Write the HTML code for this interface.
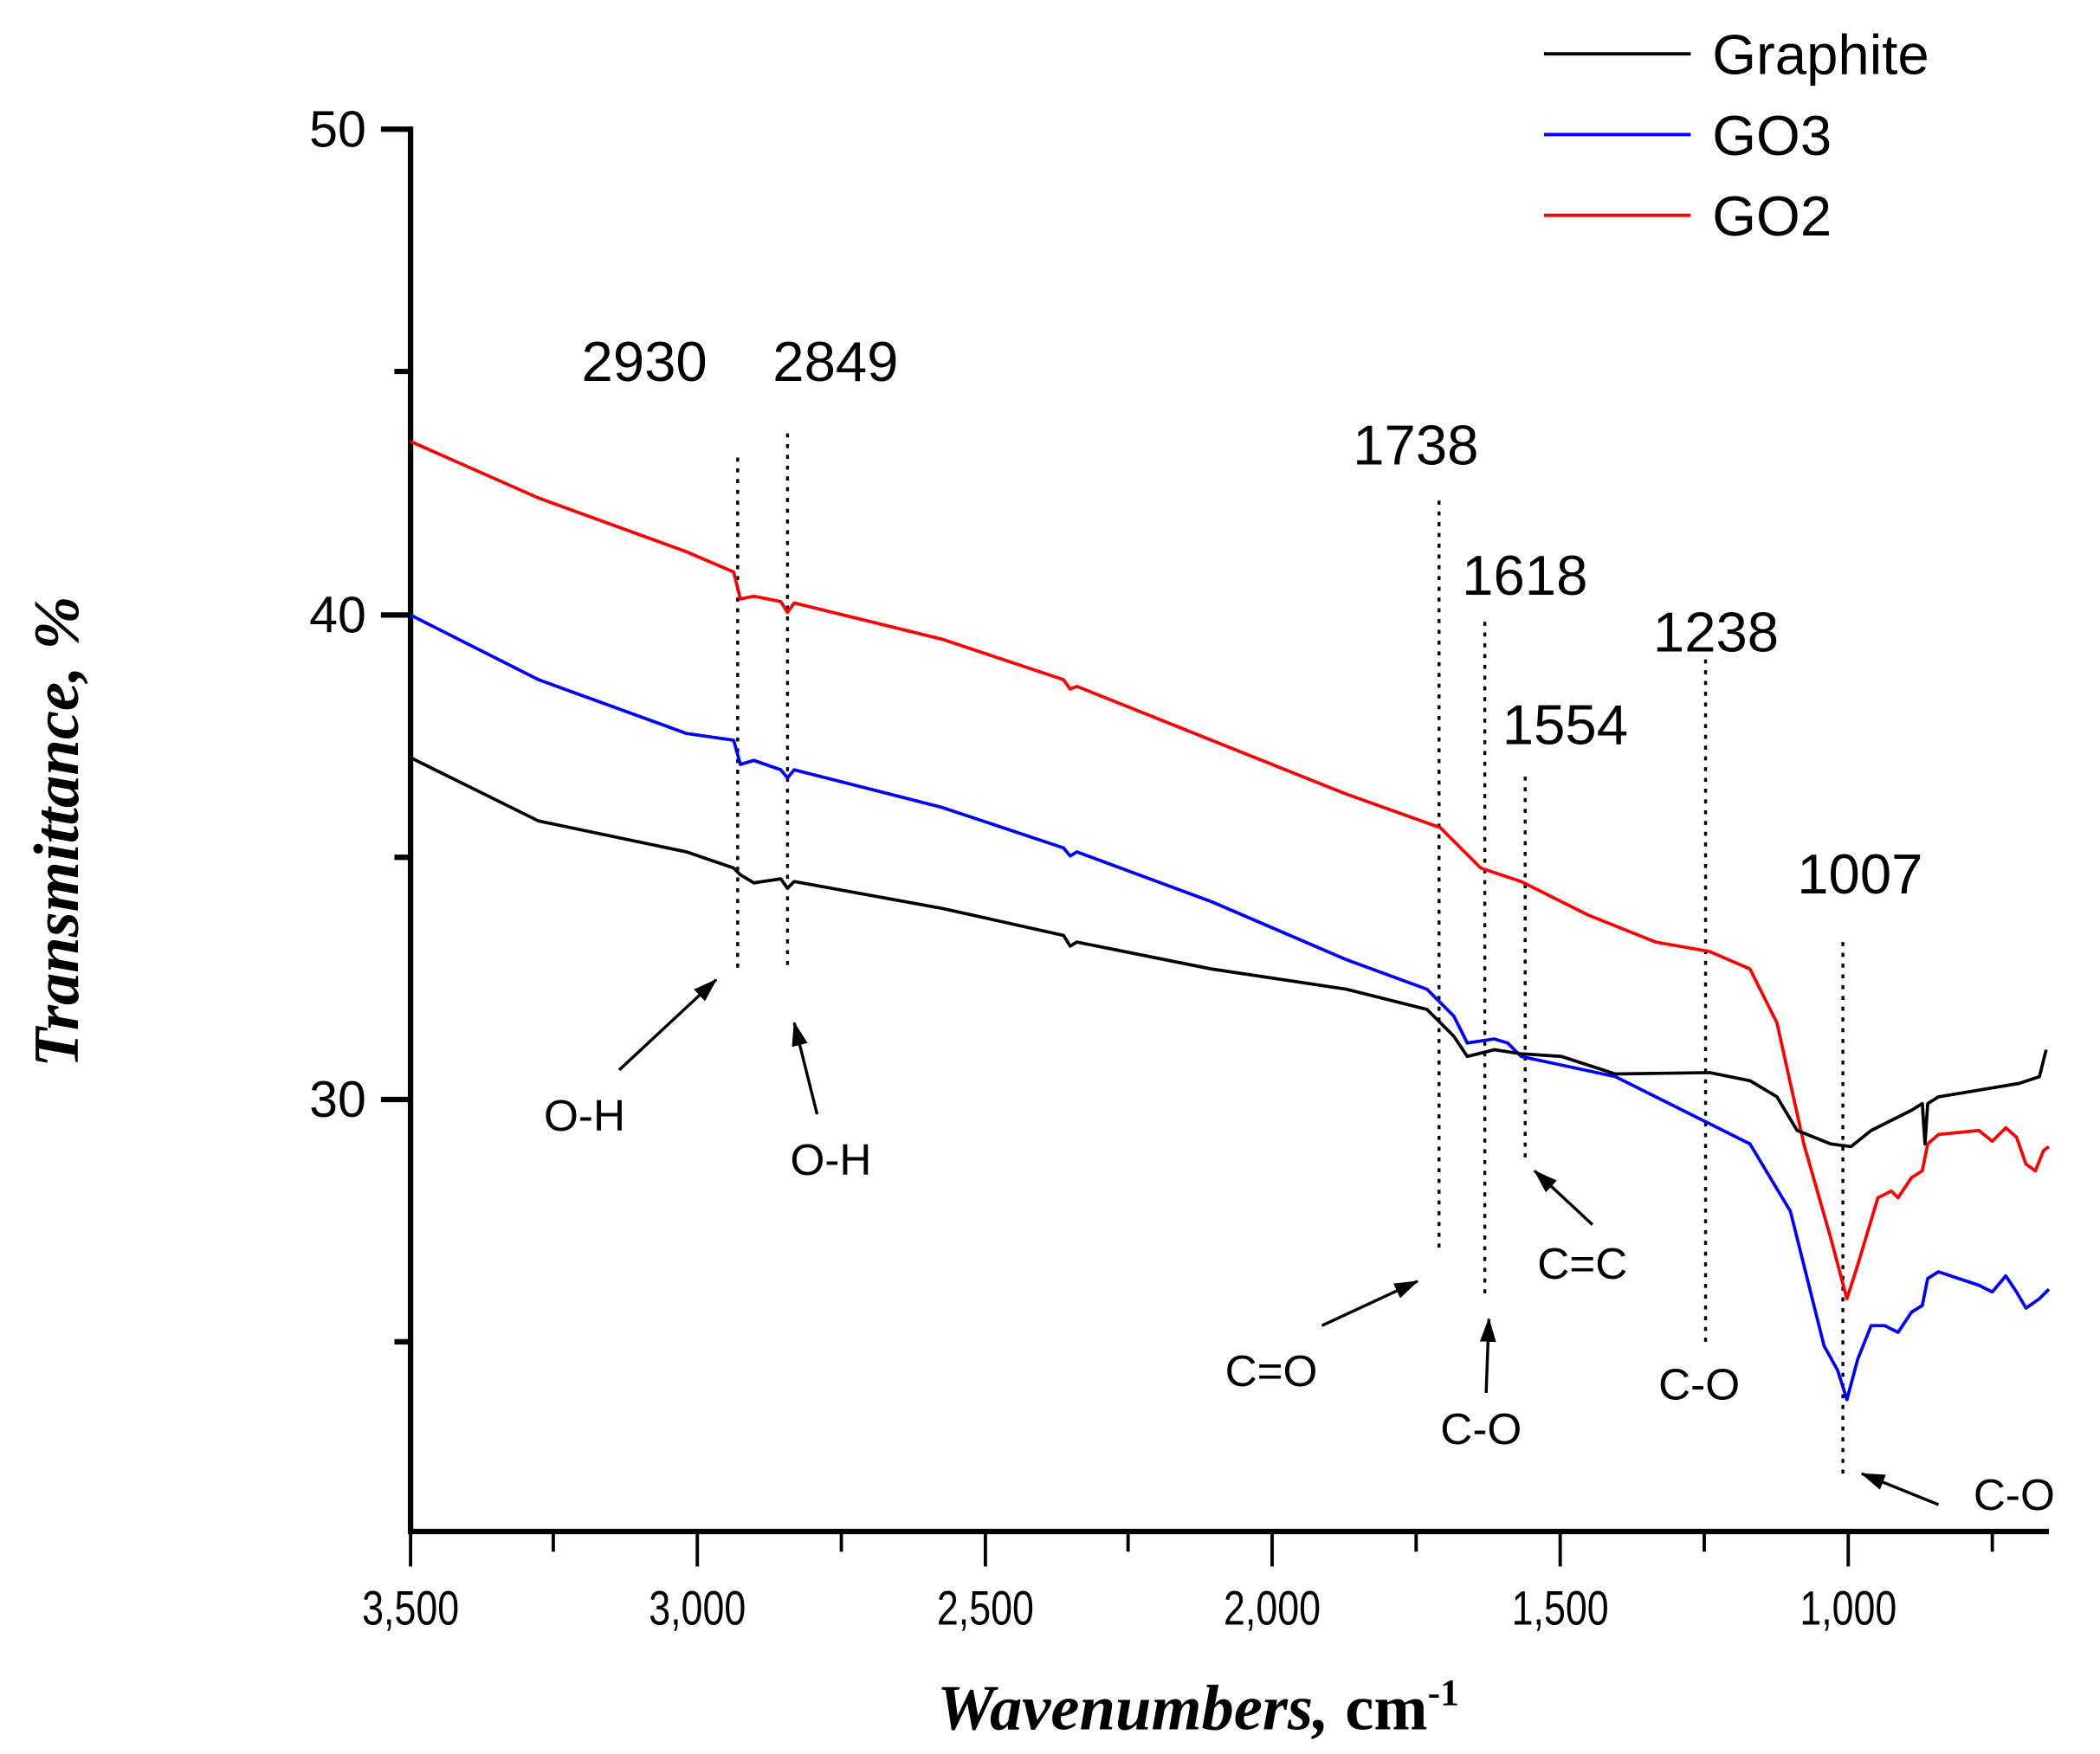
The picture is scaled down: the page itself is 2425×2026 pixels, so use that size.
<!DOCTYPE html>
<html><head><meta charset="utf-8"><style>
html,body{margin:0;padding:0;background:#fff;}
svg{display:block;}
text{font-family:"Liberation Sans",Arial,sans-serif;fill:#000;}
</style></head><body>
<svg width="2425" height="2026" viewBox="0 0 1560 1303.3" xmlns="http://www.w3.org/2000/svg">
<defs><marker id="ah2" markerWidth="18" markerHeight="12" refX="17" refY="6" orient="auto" markerUnits="userSpaceOnUse"><path d="M0,0 L18,6 L0,12 z" fill="#000"/></marker></defs>
<g stroke="#000" stroke-width="4" fill="none">
<line x1="305" y1="94" x2="305" y2="1140"/>
<line x1="303" y1="1138" x2="1522" y2="1138"/>
<line x1="283" y1="96" x2="305" y2="96"/>
<line x1="283" y1="457" x2="305" y2="457"/>
<line x1="283" y1="817" x2="305" y2="817"/>
<line x1="293" y1="276" x2="305" y2="276"/>
<line x1="293" y1="637" x2="305" y2="637"/>
<line x1="293" y1="997" x2="305" y2="997"/>
</g>
<g stroke="#000" stroke-width="2.5">
<line x1="305" y1="1138" x2="305" y2="1164"/><line x1="518" y1="1138" x2="518" y2="1164"/>
<line x1="732" y1="1138" x2="732" y2="1164"/><line x1="945" y1="1138" x2="945" y2="1164"/>
<line x1="1159" y1="1138" x2="1159" y2="1164"/><line x1="1373" y1="1138" x2="1373" y2="1164"/>
<line x1="411" y1="1138" x2="411" y2="1153"/><line x1="625" y1="1138" x2="625" y2="1153"/>
<line x1="838" y1="1138" x2="838" y2="1153"/><line x1="1052" y1="1138" x2="1052" y2="1153"/>
<line x1="1266" y1="1138" x2="1266" y2="1153"/><line x1="1480" y1="1138" x2="1480" y2="1153"/>
</g>
<g font-size="38" text-anchor="end">
<text x="272" y="109">50</text><text x="272" y="470">40</text><text x="272" y="830">30</text>
</g>
<g font-size="36" text-anchor="middle">
<text transform="translate(305 1207) scale(0.8 1)">3,500</text>
<text transform="translate(518 1207) scale(0.8 1)">3,000</text>
<text transform="translate(732 1207) scale(0.8 1)">2,500</text>
<text transform="translate(945 1207) scale(0.8 1)">2,000</text>
<text transform="translate(1159 1207) scale(0.8 1)">1,500</text>
<text transform="translate(1373 1207) scale(0.8 1)">1,000</text>
</g>
<text x="890" y="1285" text-anchor="middle" font-size="48" font-style="italic" font-weight="bold" style="font-family:'Liberation Serif',serif">Wavenumbers,<tspan font-style="normal"> cm</tspan><tspan dy="-18" font-size="28" font-style="normal">-1</tspan></text>
<text transform="translate(58 618) rotate(-90)" text-anchor="middle" font-size="48" font-style="italic" font-weight="bold" style="font-family:'Liberation Serif',serif">Transmittance, %</text>
<g stroke-width="2.5"><line x1="1147" y1="40" x2="1256" y2="40" stroke="#000"/><line x1="1147" y1="100" x2="1256" y2="100" stroke="#00f"/><line x1="1147" y1="160" x2="1256" y2="160" stroke="#f00"/></g>
<g font-size="42"><text x="1272" y="55">Graphite</text><text x="1272" y="115">GO3</text><text x="1272" y="175">GO2</text></g>
<g stroke="#000" stroke-width="2.2" stroke-dasharray="3,5">
<line x1="548" y1="340" x2="548" y2="720"/><line x1="585" y1="322" x2="585" y2="722"/>
<line x1="1069" y1="372" x2="1069" y2="932"/><line x1="1103" y1="462" x2="1103" y2="965"/>
<line x1="1133" y1="577" x2="1133" y2="862"/><line x1="1267" y1="490" x2="1267" y2="1000"/>
<line x1="1369" y1="700" x2="1369" y2="1100"/>
</g>
<g fill="none" stroke-width="2.4" stroke-linejoin="round">
<polyline stroke="#f00" points="305,328 400,370 510,410 545,425 550,445 560,443 580,447 585,455 590,448 700,475 790,505 795,512 800,510 900,550 1000,590 1070,615 1100,645 1130,655 1180,680 1230,700 1270,707 1300,720 1320,760 1340,850 1360,920 1372,965 1380,940 1395,890 1405,885 1410,890 1420,875 1428,870 1432,850 1440,843 1470,840 1480,848 1490,838 1498,845 1505,865 1512,870 1518,855 1522,852"/>
<polyline stroke="#00f" points="305,457 400,505 510,545 545,550 550,568 560,565 580,572 585,578 590,572 700,600 790,630 795,636 800,633 900,670 1000,713 1060,735 1080,755 1090,775 1110,772 1120,775 1130,785 1200,800 1230,815 1270,835 1300,850 1330,900 1355,1000 1365,1018 1372,1040 1380,1010 1390,985 1400,985 1410,990 1420,975 1428,970 1432,950 1440,945 1470,955 1480,960 1490,948 1498,960 1505,972 1515,965 1522,958"/>
<polyline stroke="#000" points="305,563 400,610 510,633 545,645 550,650 560,656 580,653 585,660 590,655 700,675 790,695 795,703 800,700 900,720 1000,735 1060,750 1080,770 1090,785 1110,780 1130,783 1160,785 1200,798 1270,797 1300,803 1320,815 1335,840 1360,850 1375,852 1390,840 1420,825 1428,820 1430,850 1432,820 1440,815 1500,805 1515,800 1520,780"/>
</g>
<g font-size="42">
<text x="432" y="283">2930</text><text x="574" y="283">2849</text><text x="1005" y="345">1738</text>
<text x="1086" y="442">1618</text><text x="1116" y="553">1554</text><text x="1228" y="484">1238</text><text x="1335" y="664">1007</text>
</g>
<g stroke="#000" stroke-width="2.2" marker-end="url(#ah2)">
<line x1="460" y1="795" x2="532" y2="728"/><line x1="607" y1="828" x2="590" y2="760"/>
<line x1="982" y1="985" x2="1053" y2="952"/><line x1="1104" y1="1035" x2="1106" y2="980"/>
<line x1="1183" y1="910" x2="1140" y2="870"/><line x1="1440" y1="1118" x2="1383" y2="1095"/>
</g>
<g font-size="33">
<text x="404" y="840">O-H</text><text x="587" y="873">O-H</text><text x="910" y="1030">C=O</text>
<text x="1070" y="1073">C-O</text><text x="1142" y="950">C=C</text><text x="1232" y="1040">C-O</text><text x="1466" y="1122">C-O</text>
</g>
</svg>
</body></html>
